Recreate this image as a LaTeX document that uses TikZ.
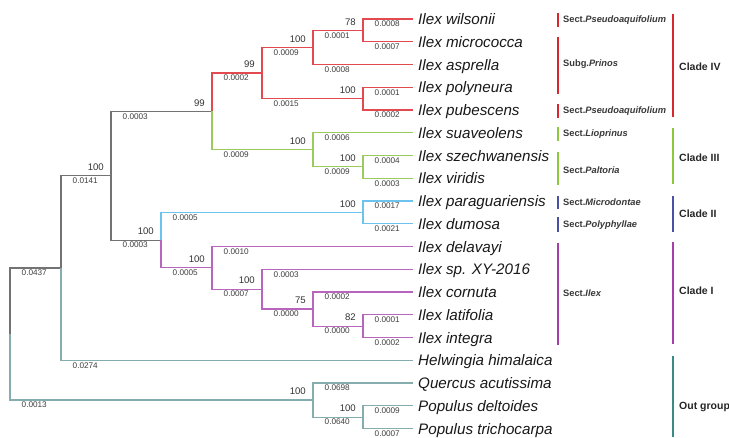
\documentclass[tikz,border=0pt]{standalone}
\usepackage{fontspec}
\setmainfont{Liberation Sans}
\usetikzlibrary{calc}
\definecolor{cgray}{HTML}{737373}
\definecolor{cred}{HTML}{E34A4F}
\definecolor{cgreen}{HTML}{9BCB5F}
\definecolor{cblue}{HTML}{6CC4EE}
\definecolor{cpurple}{HTML}{B865BE}
\definecolor{cteal}{HTML}{86ADAD}
\definecolor{bred}{HTML}{D7262E}
\definecolor{bgreen}{HTML}{8DC63F}
\definecolor{bblue}{HTML}{4B4FA6}
\definecolor{bpurple}{HTML}{A43FA8}
\definecolor{bteal}{HTML}{3A8A88}
\tikzset{
  branch/.style={line width=1.2pt},
  leaf/.style={anchor=west, inner xsep=5pt, inner ysep=0pt, text height=11pt, text depth=0pt,
    font=\fontsize{15.2}{16}\selectfont\itshape, text=black!90},
  bl/.style={anchor=west, inner sep=0pt, font=\fontsize{8.2}{9}\selectfont, text=black!75},
  bs/.style={anchor=east, inner sep=0pt, font=\fontsize{9.6}{10}\selectfont, text=black!80},
  sect/.style={anchor=west, inner sep=0pt, font=\fontsize{9.3}{10}\selectfont\bfseries, text=black!78},
  clade/.style={anchor=west, inner sep=0pt, font=\fontsize{10.5}{12}\selectfont\bfseries, text=black!85},
  bar/.style={line width=1.5pt},
}
\newcommand\tedge[5]{%
  \draw[branch,#3] (#1) |- (#2);
  \node[bl] (bl-#2) at ($(#1|-#2)+(11.5,5)$) {#4};
  \ifx\relax#5\relax\else\node[bs] (bs-#2) at ($(#2)+(-7,-8.5)$) {#5};\fi
}
\begin{document}
\begin{tikzpicture}[x=1pt,y=-1pt]
\fill[white] (0,0) rectangle (729,437);
\useasboundingbox (0,0) rectangle (729,437);
% internal nodes
\coordinate (R) at (10,334.03);
\coordinate (A) at (61,268);
\coordinate (B) at (111,175.76);
\coordinate (C) at (212,111.42);
\coordinate (D) at (161,240.1);
\coordinate (E) at (262,73.03);
\coordinate (F) at (313,47.44);
\coordinate (G) at (363,30.375);
\coordinate (H) at (363,98.625);
\coordinate (I) at (313,149.81);
\coordinate (J) at (363,166.875);
\coordinate (K) at (363,212.375);
\coordinate (L) at (212,267.83);
\coordinate (M) at (262,289.16);
\coordinate (N) at (313,309.06);
\coordinate (O) at (363,326.125);
\coordinate (P) at (313,400.06);
\coordinate (Q) at (363,417.125);
% leaves
\node[leaf] (l0) at (413,19) {Ilex wilsonii};
\node[leaf] (l1) at (413,41.75) {Ilex micrococca};
\node[leaf] (l2) at (413,64.5) {Ilex asprella};
\node[leaf] (l3) at (413,87.25) {Ilex polyneura};
\node[leaf] (l4) at (413,110) {Ilex pubescens};
\node[leaf] (l5) at (413,132.75) {Ilex suaveolens};
\node[leaf] (l6) at (413,155.5) {Ilex szechwanensis};
\node[leaf] (l7) at (413,178.25) {Ilex viridis};
\node[leaf] (l8) at (413,201) {Ilex paraguariensis};
\node[leaf] (l9) at (413,223.75) {Ilex dumosa};
\node[leaf] (l10) at (413,246.5) {Ilex delavayi};
\node[leaf] (l11) at (413,269.25) {Ilex sp. XY-2016};
\node[leaf] (l12) at (413,292) {Ilex cornuta};
\node[leaf] (l13) at (413,314.75) {Ilex latifolia};
\node[leaf] (l14) at (413,337.5) {Ilex integra};
\node[leaf] (l15) at (413,360.25) {Helwingia himalaica};
\node[leaf] (l16) at (413,383) {Quercus acutissima};
\node[leaf] (l17) at (413,405.75) {Populus deltoides};
\node[leaf] (l18) at (413,428.5) {Populus trichocarpa};
% edges
\tedge{R}{A}{cgray}{0.0437}{}
\tedge{R}{P}{cteal}{0.0013}{100}
\tedge{A}{B}{cgray}{0.0141}{100}
\tedge{A}{l15}{cteal}{0.0274}{}
\tedge{B}{C}{cgray}{0.0003}{99}
\tedge{B}{D}{cgray}{0.0003}{100}
\tedge{C}{E}{cred}{0.0002}{99}
\tedge{C}{I}{cgreen}{0.0009}{100}
\tedge{E}{F}{cred}{0.0009}{100}
\tedge{E}{H}{cred}{0.0015}{100}
\tedge{F}{G}{cred}{0.0001}{78}
\tedge{F}{l2}{cred}{0.0008}{}
\tedge{G}{l0}{cred}{0.0008}{}
\tedge{G}{l1}{cred}{0.0007}{}
\tedge{H}{l3}{cred}{0.0001}{}
\tedge{H}{l4}{cred}{0.0002}{}
\tedge{I}{l5}{cgreen}{0.0006}{}
\tedge{I}{J}{cgreen}{0.0009}{100}
\tedge{J}{l6}{cgreen}{0.0004}{}
\tedge{J}{l7}{cgreen}{0.0003}{}
\tedge{D}{K}{cblue}{0.0005}{100}
\tedge{D}{L}{cpurple}{0.0005}{100}
\tedge{K}{l8}{cblue}{0.0017}{}
\tedge{K}{l9}{cblue}{0.0021}{}
\tedge{L}{l10}{cpurple}{0.0010}{}
\tedge{L}{M}{cpurple}{0.0007}{100}
\tedge{M}{l11}{cpurple}{0.0003}{}
\tedge{M}{N}{cpurple}{0.0000}{75}
\tedge{N}{l12}{cpurple}{0.0002}{}
\tedge{N}{O}{cpurple}{0.0000}{82}
\tedge{O}{l13}{cpurple}{0.0001}{}
\tedge{O}{l14}{cpurple}{0.0002}{}
\tedge{P}{l16}{cteal}{0.0698}{}
\tedge{P}{Q}{cteal}{0.0640}{100}
\tedge{Q}{l17}{cteal}{0.0009}{}
\tedge{Q}{l18}{cteal}{0.0007}{}
% section bars and labels
\draw[bar,bred] (558,12.5) -- (558,27);
\node[sect] (s1) at (563,20) {Sect.\textit{Pseudoaquifolium}};
\draw[bar,bred] (558,37) -- (558,93.5);
\node[sect] (s2) at (563,64) {Subg.\textit{Prinos}};
\draw[bar,bred] (558,104) -- (558,118);
\node[sect] (s3) at (563,111.5) {Sect.\textit{Pseudoaquifolium}};
\draw[bar,bgreen] (558,126.5) -- (558,141);
\node[sect] (s4) at (563,134) {Sect.\textit{Lioprinus}};
\draw[bar,bgreen] (558,151.5) -- (558,185);
\node[sect] (s5) at (563,170) {Sect.\textit{Paltoria}};
\draw[bar,bblue] (558,195.5) -- (558,208.5);
\node[sect] (s6) at (563,202) {Sect.\textit{Microdontae}};
\draw[bar,bblue] (558,217) -- (558,232);
\node[sect] (s7) at (563,225) {Sect.\textit{Polyphyllae}};
\draw[bar,bpurple] (558,242.5) -- (558,344.5);
\node[sect] (s8) at (563,293) {Sect.\textit{Ilex}};
% clade bars and labels
\draw[bar,bred] (673,14) -- (673,117);
\node[clade] (c4) at (679,67) {Clade IV};
\draw[bar,bgreen] (673,128) -- (673,184);
\node[clade] (c3) at (679,158) {Clade III};
\draw[bar,bblue] (673,196) -- (673,232);
\node[clade] (c2) at (679,214) {Clade II};
\draw[bar,bpurple] (673,242) -- (673,344);
\node[clade] (c1) at (679,291) {Clade I};
\draw[bar,bteal] (673,356) -- (673,437);
\node[clade] (c0) at (679,407) {Out group};
\end{tikzpicture}
\end{document}
